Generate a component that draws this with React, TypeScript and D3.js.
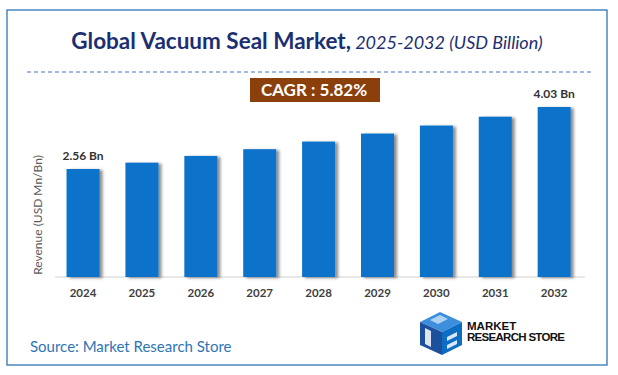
import React from "react";
import * as d3 from "d3";

const years = ["2024", "2025", "2026", "2027", "2028", "2029", "2030", "2031", "2032"];
const values = [2.56, 2.71, 2.87, 3.03, 3.21, 3.4, 3.59, 3.8, 4.03];
const labelled = ["2024", "2032"];
const titleBold = "Global Vacuum Seal Market,";
const titleItalic = " 2025-2032 (USD Billion)";
const cagrText = "CAGR :  5.82%";
const yAxisTitle = "Revenue (USD Mn/Bn)";
const sourceText = "Source: Market Research Store";

const W = 618;
const H = 375;
const FONT = "Lato, 'Open Sans', sans-serif";

export default function App() {
  const x = d3.scalePoint<string>().domain(years).range([53.6, 583.6]).padding(0.5);
  const y = d3.scaleLinear().domain([0, 4.03]).range([277, 107]);
  const bw = 33;

  return (
    <svg width={W} height={H} style={{ position: "absolute", left: 0, top: 0, background: "#fff" }}>
      <defs>
        <filter id="sh" x="-20%" y="-10%" width="160%" height="130%">
          <feDropShadow dx="3" dy="1" stdDeviation="1.6" floodColor="#000" floodOpacity="0.45" />
        </filter>
      </defs>
      <rect x={0} y={0} width={W} height={H} fill="#fff" />
      <rect x={7} y={10} width={600} height={355} fill="#fff" stroke="#2e75b6" strokeWidth={1.3} />
      <text x={307} y={49} textAnchor="middle" fontFamily={FONT} fill="#1c2f72">
        <tspan fontWeight="bold" fontSize={22.5}>{titleBold}</tspan>
        <tspan fontStyle="italic" fontSize={18}>{titleItalic}</tspan>
      </text>
      <line x1={27} x2={594} y1={72} y2={72} stroke="#4472c4" strokeWidth={1} strokeDasharray="4,3" />
      <rect x={250} y={78} width={130} height={24} fill="#8b3f0b" />
      <text x={314} y={96} textAnchor="middle" fontFamily={FONT} fontWeight="bold" fontSize={17} fill="#fff">
        {cagrText}
      </text>
      <line x1={55} x2={585} y1={y(0)} y2={y(0)} stroke="#d0d0d0" strokeWidth={1} />
      {years.map((yr, i) => (
        <rect
          key={yr}
          x={(x(yr) as number) - bw / 2}
          y={y(values[i])}
          width={bw}
          height={y(0) - y(values[i])}
          fill="#0c72c9"
          filter="url(#sh)"
        />
      ))}
      {years.map((yr, i) =>
        labelled.includes(yr) ? (
          <text
            key={"v" + yr}
            x={x(yr) as number}
            y={y(values[i]) - 9}
            textAnchor="middle"
            fontFamily={FONT}
            fontWeight="bold"
            fontSize={12}
            fill="#333"
          >
            {values[i].toFixed(2) + " Bn"}
          </text>
        ) : null
      )}
      {years.map((yr) => (
        <text
          key={"t" + yr}
          x={x(yr) as number}
          y={297}
          textAnchor="middle"
          fontFamily={FONT}
          fontWeight="bold"
          fontSize={11.5}
          fill="#404040"
        >
          {yr}
        </text>
      ))}
      <text
        transform="translate(42,215) rotate(-90)"
        textAnchor="middle"
        fontFamily={FONT}
        fontSize={12}
        fill="#595959"
      >
        {yAxisTitle}
      </text>
      <text x={30} y={352} fontFamily={FONT} fontSize={15} fill="#2e75b6">
        {sourceText}
      </text>
      <g>
        <polygon points="420,322 440,312 462,322 442,332" fill="#3b8fdc" />
        <polygon points="420,322 442,332 442,355 420,345" fill="#1c4f9c" />
        <polygon points="442,332 462,322 462,345 442,355" fill="#0d6cc4" />
        <path d="M425,328 l6,3 0,16 -6,-3 z" fill="#fff" opacity="0.85" />
        <path d="M447,337 l10,-5 0,4 -10,5 z M447,345 l10,-5 0,4 -10,5 z" fill="#fff" opacity="0.85" />
        <path d="M430,320 l10,-5 8,4 -10,5 z" fill="#fff" opacity="0.6" />
      </g>
      <text x={467} y={330} fontFamily="'Liberation Sans', Arial, sans-serif" fontWeight="bold" fontSize={11.5} fill="#111">
        MARKET
      </text>
      <text x={467} y={341} fontFamily="'Liberation Sans', Arial, sans-serif" fontWeight="bold" fontSize={11.5} fill="#111" textLength={98}>
        RESEARCH STORE
      </text>
    </svg>
  );
}
